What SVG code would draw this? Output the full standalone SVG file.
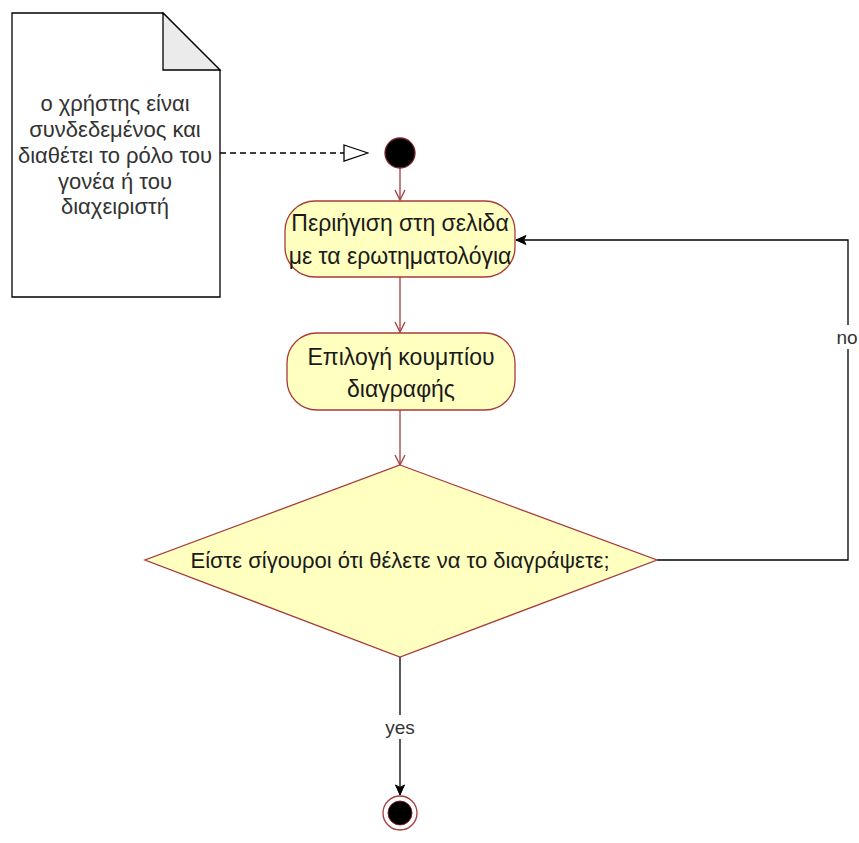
<svg xmlns="http://www.w3.org/2000/svg" width="859" height="843" viewBox="0 0 859 843">
  <defs>
    <style>
      text { font-family: "Liberation Sans", Arial, sans-serif; fill: #333333; text-anchor: middle; dominant-baseline: central; }
      .note text { font-size: 22px; fill: #333333; }
      .act { fill: #ffffc0; stroke: #a83a3a; stroke-width: 1.3; }
      .act-text { font-size: 23px; fill: #1a1a1a; }
      .dec-text { font-size: 22px; fill: #1a1a1a; }
      .flow-red { fill: none; stroke: #a83a3a; stroke-width: 1.3; }
      .flow-black { fill: none; stroke: #000000; stroke-width: 1.3; }
      .lbl { font-size: 19px; fill: #333333; }
    </style>
    <marker id="openV" viewBox="0 0 12 12" refX="11" refY="6" markerWidth="12" markerHeight="12" markerUnits="userSpaceOnUse" orient="auto">
      <path d="M1,1 L11,6 L1,11" fill="none" stroke="#a83a3a" stroke-width="1.3"/>
    </marker>
    <marker id="solid" viewBox="0 0 12 12" refX="11" refY="6" markerWidth="12" markerHeight="12" markerUnits="userSpaceOnUse" orient="auto">
      <path d="M1,1.5 L11,6 L1,10.5 L3.5,6 Z" fill="#000000" stroke="#000000" stroke-width="1"/>
    </marker>
    <marker id="hollowTri" viewBox="0 0 26 20" refX="25" refY="10" markerWidth="26" markerHeight="20" markerUnits="userSpaceOnUse" orient="auto">
      <path d="M1,2 L25,10 L1,18 Z" fill="#ffffff" stroke="#000000" stroke-width="1.3"/>
    </marker>
  </defs>

  <rect width="859" height="843" fill="#ffffff"/>

  <!-- connectors -->
  <g id="connectors">
    <path d="M220,153 L368,153" fill="none" stroke="#000000" stroke-width="1.3" stroke-dasharray="6,4" marker-end="url(#hollowTri)"/>
    <path class="flow-red" d="M400,168 L400,200" marker-end="url(#openV)"/>
    <path class="flow-red" d="M400,277 L400,332" marker-end="url(#openV)"/>
    <path class="flow-red" d="M400,410 L400,465" marker-end="url(#openV)"/>
    <path class="flow-black" d="M657,560 L848,560 L848,240 L516,240" marker-end="url(#solid)"/>
    <rect x="834" y="325" width="26" height="24" fill="#ffffff"/>
    <text class="lbl" x="847" y="337">no</text>
    <path class="flow-black" d="M400,657 L400,795" marker-end="url(#solid)"/>
    <rect x="382" y="715" width="36" height="24" fill="#ffffff"/>
    <text class="lbl" x="400" y="727">yes</text>
  </g>

  <!-- note -->
  <g id="note" class="note">
    <path d="M12,13 L163,13 L220,70 L220,297 L12,297 Z" fill="#ffffff" stroke="#000000" stroke-width="1.3"/>
    <path d="M163,13 L163,70 L220,70 Z" fill="#ebebeb" stroke="#000000" stroke-width="1.3"/>
    <text x="115" y="103">ο χρήστης είναι</text>
    <text x="115" y="129">συνδεδεμένος και</text>
    <text x="115" y="155">διαθέτει το ρόλο του</text>
    <text x="115" y="181">γονέα ή του</text>
    <text x="115" y="206">διαχειριστή</text>
  </g>

  <!-- initial node -->
  <g id="start">
    <circle cx="400" cy="153" r="15" fill="#000000" stroke="#7a1f2a" stroke-width="1.3"/>
  </g>

  <!-- activities -->
  <g id="browse">
    <rect class="act" x="285" y="201" width="230" height="76" rx="30" ry="30"/>
    <text class="act-text" x="400" y="223">Περιήγιση στη σελιδα</text>
    <text class="act-text" x="400" y="256">με τα ερωτηματολόγια</text>
  </g>

  <g id="select-delete">
    <rect class="act" x="287" y="333" width="228" height="77" rx="30" ry="30"/>
    <text class="act-text" x="401" y="357">Επιλογή κουμπίου</text>
    <text class="act-text" x="401" y="389">διαγραφής</text>
  </g>

  <!-- decision -->
  <g id="confirm">
    <path class="act" d="M400,465 L657,560 L400,657 L145,560 Z"/>
    <text class="dec-text" x="400" y="560">Είστε σίγουροι ότι θέλετε να το διαγράψετε;</text>
  </g>

  <!-- final node -->
  <g id="end">
    <circle cx="400" cy="813" r="17" fill="#ffffff" stroke="#a83a3a" stroke-width="1.3"/>
    <circle cx="400" cy="813" r="12" fill="#000000" stroke="#7a1f2a" stroke-width="1"/>
  </g>
</svg>
